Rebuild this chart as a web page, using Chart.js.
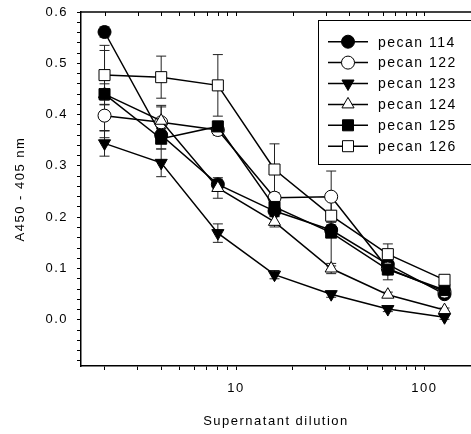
<!DOCTYPE html>
<html lang="en">
<head>
<meta charset="UTF-8">
<title>Supernatant dilution</title>
<style>
  body { margin: 0; background: #fff; overflow: hidden; }
  .wrap { width: 471px; height: 434px; position: relative; }
</style>
</head>
<body>
<div class="wrap"><canvas id="chart"></canvas></div>
<script src="https://cdn.jsdelivr.net/npm/chart.js"></script>
<script>
// values
const dilutions = [2, 4, 8, 16, 32, 64, 128];

const pecan114 = [0.561, 0.360, 0.264, 0.212, 0.175, 0.108, 0.050];
const pecan122 = [0.398, 0.385, 0.370, 0.238, 0.240, 0.100, 0.055];
const pecan123 = [0.344, 0.306, 0.169, 0.088, 0.050, 0.021, 0.005];
const pecan124 = [0.440, 0.388, 0.257, 0.191, 0.100, 0.049, 0.019];
const pecan125 = [0.440, 0.353, 0.377, 0.220, 0.170, 0.098, 0.058];
const pecan126 = [0.477, 0.473, 0.457, 0.293, 0.203, 0.128, 0.078];

// +/- error
const err114 = [0.010, 0.010, 0.010, 0.010, 0.010, 0.010, 0.005];
const err122 = [0.030, 0.030, 0.010, 0.010, 0.050, 0.010, 0.005];
const err123 = [0.025, 0.027, 0.018, 0.008, 0.006, 0.005, 0.004];
const err124 = [0.020, 0.030, 0.020, 0.010, 0.010, 0.005, 0.004];
const err125 = [0.085, 0.020, 0.010, 0.012, 0.065, 0.020, 0.008];
const err126 = [0.058, 0.041, 0.060, 0.050, 0.010, 0.020, 0.008];

const seriesNames = ['pecan 114', 'pecan 122', 'pecan 123', 'pecan 124', 'pecan 125', 'pecan 126'];

const xTicks = [2, 3, 4, 5, 6, 7, 8, 9, 10, 20, 30, 40, 50, 60, 70, 80, 90, 100];
const xLabels = [10, 100];
const yTicks = [-0.08, -0.06, -0.04, -0.02, 0.0, 0.02, 0.04, 0.06, 0.08, 0.1, 0.12, 0.14, 0.16, 0.18,
  0.2, 0.22, 0.24, 0.26, 0.28, 0.3, 0.32, 0.34, 0.36, 0.38, 0.4, 0.42, 0.44, 0.46, 0.48, 0.5,
  0.52, 0.54, 0.56, 0.58, 0.6];
const yLabels = [0.0, 0.1, 0.2, 0.3, 0.4, 0.5, 0.6];

const FONT = 'Arial, "Liberation Sans", sans-serif';

const values = [pecan114, pecan122, pecan123, pecan124, pecan125, pecan126];
const errors = [err114, err122, err123, err124, err125, err126];
const styles = [
  { shape: 'circle', fill: '#000', r: 6.5, rot: 0 },
  { shape: 'circle', fill: '#fff', r: 6.5, rot: 0 },
  { shape: 'triangle', fill: '#000', r: 7, rot: 180 },
  { shape: 'triangle', fill: '#fff', r: 7, rot: 0 },
  { shape: 'rect', fill: '#000', r: 7.8, rot: 0 },
  { shape: 'rect', fill: '#fff', r: 7.8, rot: 0 }
];

const datasets = seriesNames.map((name, i) => ({
  label: name,
  data: dilutions.map((d, k) => ({ x: d, y: values[i][k] })),
  errors: errors[i],
  borderColor: '#000',
  borderWidth: 1.5,
  backgroundColor: styles[i].fill,
  pointStyle: styles[i].shape,
  pointRadius: styles[i].r,
  pointRotation: styles[i].rot,
  pointBackgroundColor: styles[i].fill,
  pointBorderColor: '#000',
  pointBorderWidth: 1,
  tension: 0,
  order: seriesNames.length - i
}));

const extras = {
  id: 'extras',
  beforeDraw(chart) {
    chart.ctx.letterSpacing = '1.5px';
  },
  beforeDatasetsDraw(chart) {
    const ctx = chart.ctx;
    const x = chart.scales.x, y = chart.scales.y;
    ctx.save();
    ctx.strokeStyle = '#222';
    ctx.lineWidth = 1;
    chart.data.datasets.forEach(ds => {
      ds.data.forEach((p, k) => {
        const e = ds.errors[k];
        const px = x.getPixelForValue(p.x);
        const top = y.getPixelForValue(p.y + e);
        const bot = y.getPixelForValue(p.y - e);
        ctx.beginPath();
        ctx.moveTo(px, top); ctx.lineTo(px, bot);
        ctx.moveTo(px - 5, top); ctx.lineTo(px + 5, top);
        ctx.moveTo(px - 5, bot); ctx.lineTo(px + 5, bot);
        ctx.stroke();
      });
    });
    ctx.restore();
  },
  afterDraw(chart) {
    const ctx = chart.ctx;
    const area = chart.chartArea;
    const x = chart.scales.x;
    ctx.save();
    // top frame with inward ticks
    ctx.strokeStyle = '#000';
    ctx.lineWidth = 1.5;
    ctx.beginPath();
    ctx.moveTo(area.left, area.top);
    ctx.lineTo(area.right, area.top);
    ctx.stroke();
    ctx.lineWidth = 1;
    ctx.beginPath();
    x.ticks.forEach(t => {
      const px = Math.round(x.getPixelForValue(t.value)) + 0.5;
      ctx.moveTo(px, area.top);
      ctx.lineTo(px, area.top + 4);
    });
    ctx.stroke();

    // legend
    ctx.lineWidth = 1;
    ctx.strokeRect(318.5, 20.5, 200, 144);
    ctx.font = '14px ' + FONT;
    ctx.textBaseline = 'middle';
    ctx.textAlign = 'left';
    chart.data.datasets.forEach((ds, i) => {
      const ly = 41.7 + i * 20.9;
      ctx.strokeStyle = '#000';
      ctx.lineWidth = 1.5;
      ctx.beginPath();
      ctx.moveTo(328, ly);
      ctx.lineTo(368, ly);
      ctx.stroke();
      ctx.fillStyle = ds.pointBackgroundColor;
      ctx.lineWidth = 1;
      Chart.helpers.drawPoint(ctx, {
        pointStyle: ds.pointStyle, radius: ds.pointRadius,
        rotation: ds.pointRotation, borderWidth: 1
      }, 348, ly);
      ctx.fillStyle = '#000';
      ctx.fillText(ds.label, 378, ly + 1);
    });
    ctx.restore();
  }
};

new Chart(document.getElementById('chart'), {
  type: 'line',
  data: { datasets },
  plugins: [extras],
  options: {
    responsive: true,
    maintainAspectRatio: false,
    animation: false,
    layout: { autoPadding: false, padding: { top: 12, right: 0, bottom: 0, left: 0 } },
    plugins: { legend: { display: false }, tooltip: { enabled: false } },
    scales: {
      x: {
        type: 'logarithmic',
        position: 'bottom',
        min: 1.5,
        max: 177,
        afterBuildTicks: s => { s.ticks = xTicks.map(v => ({ value: v })); },
        afterFit: s => { s.height = 68; s.paddingLeft = 0; s.paddingRight = 0; },
        border: { display: true, color: '#000', width: 1.5 },
        grid: { display: true, drawOnChartArea: false, drawTicks: true, tickLength: 4, tickColor: '#000' },
        ticks: {
          autoSkip: false, maxRotation: 0, padding: 11, color: '#000',
          font: { family: FONT, size: 13 },
          callback: v => xLabels.includes(v) ? String(v) : ''
        },
        title: {
          display: true, text: 'Supernatant dilution', color: '#000',
          font: { family: FONT, size: 13 }, padding: { top: 0, bottom: 5 }
        }
      },
      y: {
        type: 'linear',
        min: -0.09,
        max: 0.6,
        afterBuildTicks: s => { s.ticks = yTicks.map(v => ({ value: v })); },
        afterFit: s => { s.width = 81; s.paddingTop = 0; s.paddingBottom = 0; },
        border: { display: true, color: '#000', width: 1.5 },
        grid: { display: true, drawOnChartArea: false, drawTicks: true, tickLength: 4, tickColor: '#000' },
        ticks: {
          autoSkip: false, padding: 9, color: '#000',
          font: { family: FONT, size: 13 },
          callback: v => yLabels.some(l => Math.abs(l - v) < 1e-6) ? v.toFixed(1) : ''
        },
        title: {
          display: true, text: 'A450 - 405 nm', color: '#000',
          font: { family: FONT, size: 13 }, padding: { top: 13, bottom: 0 }
        }
      }
    }
  }
});
</script>
</body>
</html>
